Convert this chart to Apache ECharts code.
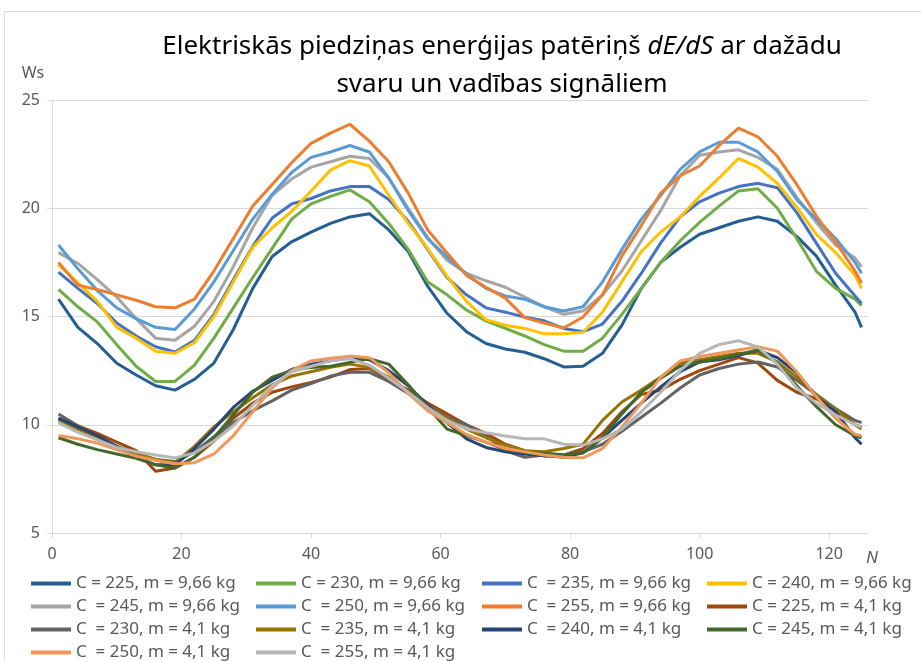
<!DOCTYPE html>
<html>
<head>
<meta charset="utf-8">
<script src="https://cdn.jsdelivr.net/npm/echarts@6.0.0/dist/echarts.min.js"></script>
<style>
  html, body { margin: 0; padding: 0; background: #fff; }
  #chart { width: 921px; height: 661px; }
</style>
</head>
<body>
<div id="chart"></div>
<script>
// N values (sampled every 3rd step)
const nValues = [1,4,7,10,13,16,19,22,25,28,31,34,37,40,43,46,49,52,55,58,61,64,67,70,73,76,79,82,85,88,91,94,97,100,103,106,109,112,115,118,121,124,125];
const xTicks = [0,20,40,60,80,100,120];

// m = 9,66 kg
const c225m966 = [15.8,14.5,13.75,12.84,12.3,11.8,11.6,12.1,12.85,14.4,16.3,17.77,18.45,18.9,19.3,19.6,19.75,19.0,18.0,16.4,15.15,14.3,13.75,13.5,13.35,13.05,12.67,12.7,13.3,14.6,16.3,17.5,18.2,18.8,19.1,19.4,19.6,19.4,18.7,17.8,16.45,15.2,14.5];
const c230m966 = [16.25,15.45,14.75,13.7,12.7,12.0,12.0,12.75,14.0,15.4,16.8,18.15,19.5,20.2,20.55,20.85,20.3,19.3,18.1,16.6,16.0,15.3,14.8,14.45,14.1,13.7,13.4,13.4,14.0,15.1,16.3,17.5,18.5,19.35,20.1,20.8,20.9,20.0,18.6,17.1,16.3,15.8,15.5];
const c235m966 = [17.05,16.3,15.6,14.7,14.1,13.6,13.36,13.9,15.1,16.7,18.25,19.55,20.2,20.45,20.8,21.0,21.0,20.4,19.4,18.1,16.8,16.0,15.4,15.2,14.97,14.8,14.45,14.3,14.65,15.7,17.0,18.4,19.6,20.3,20.7,21.0,21.15,20.95,19.8,18.4,17.0,15.95,15.6];
const c240m966 = [17.4,16.55,15.7,14.5,14.0,13.4,13.3,13.8,15.0,16.6,18.2,19.1,19.85,20.8,21.76,22.2,21.95,20.6,19.3,18.15,16.85,15.7,14.85,14.6,14.45,14.2,14.2,14.27,15.2,16.6,18.0,18.9,19.6,20.55,21.4,22.3,21.9,21.15,20.05,18.8,17.95,16.9,16.3];
const c245m966 = [17.95,17.45,16.7,15.9,14.9,14.0,13.9,14.55,15.7,17.3,19.1,20.6,21.35,21.9,22.15,22.4,22.3,21.4,20.0,18.65,17.6,17.0,16.65,16.35,15.9,15.45,15.1,15.25,16.0,17.1,18.5,19.9,21.5,22.45,22.6,22.7,22.35,21.8,20.5,19.35,18.3,17.7,17.3];
const c250m966 = [18.3,17.2,16.2,15.4,14.9,14.5,14.4,15.35,16.6,18.05,19.5,20.65,21.65,22.35,22.6,22.9,22.6,21.4,19.9,18.6,17.75,16.95,16.3,15.95,15.8,15.45,15.25,15.45,16.6,18.1,19.5,20.6,21.8,22.6,23.05,23.05,22.6,21.7,20.4,19.5,18.6,17.5,17.0];
const c255m966 = [17.5,16.45,16.25,16.0,15.75,15.45,15.4,15.8,17.1,18.6,20.1,21.1,22.1,23.0,23.47,23.88,23.1,22.15,20.7,19.0,17.93,16.9,16.35,15.85,14.95,14.7,14.47,14.98,16.0,17.8,19.2,20.7,21.5,21.95,22.9,23.7,23.3,22.4,21.1,19.65,18.45,17.1,16.55];

// m = 4,1 kg
const c225m41 = [10.3,9.95,9.6,9.2,8.8,7.85,8.0,8.5,9.25,10.3,11.0,11.5,11.75,11.95,12.2,12.55,12.6,12.1,11.6,11.0,10.5,10.0,9.6,9.1,8.8,8.55,8.6,8.9,9.6,10.6,11.4,11.6,12.1,12.5,12.8,13.1,12.85,12.05,11.5,11.2,10.7,10.0,9.9];
const c230m41 = [10.5,9.95,9.4,9.0,8.65,8.4,8.3,8.75,9.45,10.1,10.65,11.1,11.6,11.9,12.25,12.42,12.42,12.0,11.45,10.85,10.35,10.0,9.5,8.8,8.5,8.6,8.6,8.75,9.1,9.7,10.35,11.0,11.7,12.3,12.6,12.8,12.9,12.67,12.05,11.4,10.75,10.2,10.1];
const c235m41 = [10.2,9.8,9.4,9.0,8.7,8.4,8.25,9.0,9.9,10.6,11.25,11.85,12.25,12.45,12.65,12.8,12.65,12.2,11.5,10.8,10.3,9.8,9.4,9.05,8.8,8.75,8.9,9.1,10.2,11.05,11.6,12.2,12.85,13.0,13.15,13.3,13.3,12.9,12.2,11.4,10.7,10.0,9.8];
const c240m41 = [10.3,9.9,9.5,9.0,8.5,8.15,8.15,8.9,9.8,10.8,11.55,12.05,12.55,12.8,12.95,13.1,13.0,12.5,11.8,10.9,10.1,9.35,8.95,8.75,8.65,8.58,8.5,8.7,9.4,10.2,11.0,11.75,12.45,12.9,13.0,13.2,13.45,13.1,12.4,11.3,10.6,9.4,9.1];
const c245m41 = [9.4,9.1,8.85,8.65,8.45,8.15,8.0,8.5,9.4,10.45,11.5,12.2,12.5,12.65,12.7,12.88,13.05,12.8,11.85,10.8,9.8,9.5,9.2,8.85,8.75,8.68,8.62,8.7,9.4,10.5,11.5,12.15,12.7,12.9,13.05,13.25,13.45,12.85,11.8,10.85,10.0,9.5,9.4];
const c250m41 = [9.5,9.35,9.15,8.85,8.55,8.35,8.2,8.25,8.65,9.5,10.6,11.7,12.5,12.95,13.07,13.17,13.1,12.4,11.45,10.65,10.1,9.55,9.2,8.9,8.75,8.6,8.5,8.47,8.9,9.9,11.0,12.2,12.95,13.15,13.3,13.45,13.6,13.4,12.45,11.3,10.3,9.55,9.5];
const c255m41 = [10.1,9.65,9.3,8.95,8.75,8.6,8.47,8.7,9.25,9.95,10.9,11.8,12.45,12.7,12.95,13.05,12.75,12.15,11.5,10.8,10.2,9.8,9.63,9.48,9.35,9.35,9.1,9.06,9.35,9.8,10.6,11.5,12.5,13.3,13.7,13.88,13.6,12.8,11.7,11.0,10.45,10.0,9.9];

const seriesNames = [
  'C = 225, m = 9,66 kg', 'C = 230, m = 9,66 kg', 'C  = 235, m = 9,66 kg', 'C = 240, m = 9,66 kg',
  'C  = 245, m = 9,66 kg', 'C  = 250, m = 9,66 kg', 'C  = 255, m = 9,66 kg', 'C = 225, m = 4,1 kg',
  'C  = 230, m = 4,1 kg', 'C  = 235, m = 4,1 kg', 'C  = 240, m = 4,1 kg', 'C = 245, m = 4,1 kg',
  'C  = 250, m = 4,1 kg', 'C  = 255, m = 4,1 kg'
];
const seriesValues = [c225m966, c230m966, c235m966, c240m966, c245m966, c250m966, c255m966,
  c225m41, c230m41, c235m41, c240m41, c245m41, c250m41, c255m41];
const colors = ['#255E91','#70AD47','#4472C4','#FFC000','#A5A5A5','#5B9BD5','#ED7D31',
  '#9E480E','#636363','#997300','#264478','#43682B','#F1975A','#B7B7B7'];

const FONT = '"Noto Sans", "DejaVu Sans", sans-serif';
const TXT = '#595959';

let chart = echarts.init(document.getElementById('chart'));

let series = seriesNames.map((name, i) => ({
  name: name,
  type: 'line',
  symbol: 'none',
  showSymbol: false,
  color: colors[i],
  lineStyle: { width: 3, color: colors[i] },
  data: nValues.map((n, j) => [n, seriesValues[i][j]])
}));

// legend in 4 columns like the excel layout
const legendCols = [[0,4,8,12],[1,5,9,13],[2,6,10],[3,7,11]];
const legendLeft = [31, 256, 482, 707];
let legends = legendCols.map((col, k) => ({
  orient: 'vertical',
  left: legendLeft[k],
  top: 575,
  height: 100,
  padding: 0,
  icon: 'rect',
  itemWidth: 40,
  itemHeight: 4,
  itemGap: 6,
  data: col.map(i => seriesNames[i]),
  textStyle: { color: TXT, fontSize: 17, lineHeight: 16, fontFamily: FONT }
}));

let option = {
  animation: false,
  backgroundColor: '#fff',
  grid: { left: 52, right: 53, top: 100, bottom: 128 },
  legend: legends,
  xAxis: {
    type: 'value',
    min: 0,
    max: 126,
    interval: 20,
    axisLine: { lineStyle: { color: '#D9D9D9' } },
    axisTick: { show: true, length: 5, lineStyle: { color: '#D9D9D9' }, customValues: xTicks },
    axisLabel: { color: TXT, fontSize: 16, fontFamily: FONT, margin: 13, customValues: xTicks },
    splitLine: { show: false }
  },
  yAxis: {
    type: 'value',
    min: 5,
    max: 25,
    interval: 5,
    axisLine: { show: true, lineStyle: { color: '#D9D9D9' } },
    axisTick: { show: true, length: 5, lineStyle: { color: '#D9D9D9' } },
    axisLabel: { color: TXT, fontSize: 16, fontFamily: FONT, margin: 12 },
    splitLine: { lineStyle: { color: '#D9D9D9', width: 1 } }
  },
  graphic: [
    { type: 'rect', silent: true, z: -10, shape: { x: 4.5, y: 11.5, width: 930, height: 660 },
      style: { fill: 'none', stroke: '#D9D9D9', lineWidth: 1 } },
    { type: 'text', x: 502, y: 28, style: {
        text: '{n|Elektriskās piedziņas enerģijas patēriņš }{i|dE/dS}{n| ar dažādu}\n{n|svaru un vadības signāliem}',
        align: 'center', verticalAlign: 'top',
        rich: {
          n: { fontSize: 26, fontFamily: FONT, color: TXT, lineHeight: 38 },
          i: { fontSize: 26, fontFamily: FONT, color: TXT, lineHeight: 38, fontStyle: 'italic' }
        }
      } },
    { type: 'text', x: 33, y: 73, style: { text: 'Ws', align: 'center', verticalAlign: 'middle',
        fontSize: 16, fontFamily: FONT, fill: TXT } },
    { type: 'text', x: 872, y: 558, style: { text: 'N', align: 'center', verticalAlign: 'middle',
        fontSize: 17, fontStyle: 'italic', fontFamily: FONT, fill: TXT } }
  ],
  series: series
};

chart.setOption(option);
</script>
</body>
</html>
